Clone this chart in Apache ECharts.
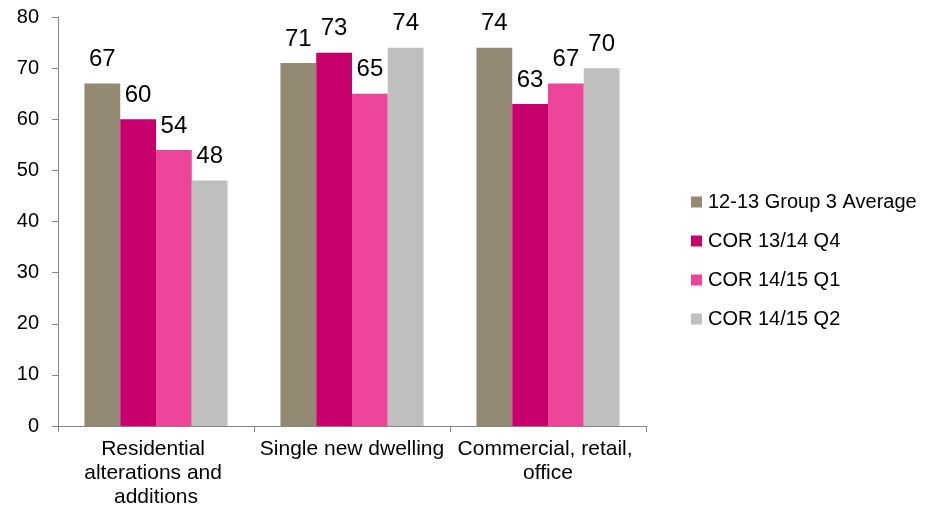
<!DOCTYPE html>
<html>
<head>
<meta charset="utf-8">
<script src="https://cdn.jsdelivr.net/npm/echarts@6/dist/echarts.min.js"></script>
<style>
html,body{margin:0;padding:0;background:#fff;}
#c{width:927px;height:512px;}
</style>
</head>
<body>
<div id="c"></div>
<script>
const categories = ["Residential alterations and additions", "Single new dwelling", "Commercial, retail, office"];
const seriesNames = ["12-13 Group 3 Average", "COR 13/14 Q4", "COR 14/15 Q1", "COR 14/15 Q2"];
const avg1213 = [67, 71, 74];
const cor1314q4 = [60, 73, 63];
const cor1415q1 = [54, 65, 67];
const cor1415q2 = [48, 74, 70];
const yTicks = { min: 0, max: 80, interval: 10 };
const colors = ["#948A74", "#C7006E", "#EC4599", "#BFBFBF"];

const values = [avg1213, cor1314q4, cor1415q1, cor1415q2];
const font = "Liberation Sans, Arial, sans-serif";

const chart = echarts.init(document.getElementById('c'), null, { renderer: 'canvas' });
chart.setOption({
  animation: false,
  backgroundColor: '#ffffff',
  textStyle: { fontFamily: font },
  grid: { left: 58, right: 281, top: 17, bottom: 86, containLabel: false },
  legend: {
    orient: 'vertical',
    left: 686,
    top: 187,
    itemWidth: 11,
    itemHeight: 11,
    itemGap: 19,
    icon: 'rect',
    textStyle: { fontSize: 20, color: '#000', fontFamily: font, padding: [0, 0, 0, 1] },
    data: seriesNames
  },
  xAxis: {
    type: 'category',
    data: categories,
    axisLine: { show: true, lineStyle: { color: '#868686', width: 1 } },
    axisTick: { show: true, length: 6, lineStyle: { color: '#868686' } },
    axisLabel: {
      fontSize: 21, color: '#000', fontFamily: font, margin: 11,
      width: 192, overflow: 'break', lineHeight: 24, interval: 0
    }
  },
  yAxis: {
    type: 'value',
    min: yTicks.min, max: yTicks.max, interval: yTicks.interval,
    axisLine: { show: true, lineStyle: { color: '#868686', width: 1 } },
    axisTick: { show: true, length: 6, lineStyle: { color: '#868686' } },
    splitLine: { show: false },
    axisLabel: { fontSize: 20, color: '#000', fontFamily: font, margin: 19 }
  },
  series: seriesNames.map((name, i) => ({
    name: name,
    type: 'bar',
    data: values[i],
    barGap: '0%',
    barCategoryGap: '27%',
    itemStyle: { color: colors[i] },
    label: {
      show: true, position: 'top', distance: 12,
      fontSize: 24, color: '#000', fontFamily: font
    }
  }))
});
</script>
</body>
</html>
